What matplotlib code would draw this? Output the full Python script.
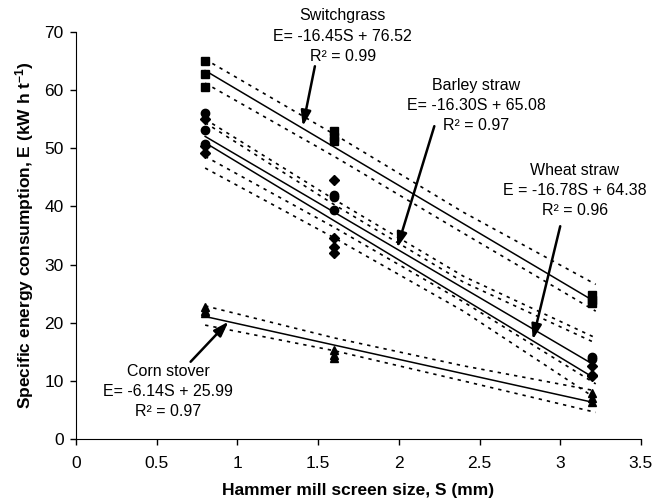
import numpy as np
import matplotlib
matplotlib.use("Agg")
import matplotlib.pyplot as plt

plt.rcParams["font.family"] = ["Liberation Sans", "DejaVu Sans"]
plt.rcParams["mathtext.fontset"] = "custom"
plt.rcParams["mathtext.rm"] = "Liberation Sans"
plt.rcParams["mathtext.bf"] = "Liberation Sans:bold"
plt.rcParams["mathtext.default"] = "bf"

# measured points (screen size, mm)
sg_x = [0.8, 0.8, 0.8, 1.6, 1.6, 1.6, 3.2, 3.2, 3.2]
sg_e = [65.0, 62.7, 60.5, 53.0, 52.0, 51.2, 24.8, 24.0, 23.4]
barley_x = [0.8, 0.8, 0.8, 1.6, 1.6, 1.6, 3.2, 3.2]
barley_e = [56.1, 53.1, 50.7, 41.9, 41.6, 39.4, 14.2, 13.7]
wheat_x = [0.8, 0.8, 0.8, 1.6, 1.6, 1.6, 1.6, 3.2, 3.2, 3.2]
wheat_e = [55.1, 50.4, 49.2, 44.6, 34.6, 33.0, 32.0, 12.6, 11.0, 10.8]
corn_x = [0.8, 0.8, 0.8, 1.6, 1.6, 1.6, 3.2, 3.2, 3.2]
corn_e = [22.7, 22.0, 21.6, 15.3, 14.5, 14.0, 8.0, 7.0, 6.3]

# fitted lines E = a*S + b
fit_x = [0.8, 3.2]
sg_fit = (-16.45, 76.52)
barley_fit = (-16.30, 65.08)
wheat_fit = (-16.78, 64.38)
corn_fit = (-6.14, 25.99)

# confidence bands
band_x = [0.8, 1.6, 2.4, 3.22]
sg_up = [65.3, 52.4, 39.0, 26.6]
sg_lo = [61.2, 48.6, 35.4, 22.0]
barley_up = [55.0, 41.2, 28.0, 17.4]
barley_lo = [48.6, 36.4, 23.6, 9.5]
wheat_up = [54.4, 40.3, 27.0, 16.5]
wheat_lo = [46.6, 34.6, 22.0, 7.0]
corn_up = [22.9, 17.4, 12.6, 8.3]
corn_lo = [19.6, 15.2, 10.0, 4.6]

fig, ax = plt.subplots(figsize=(6.52, 4.99), dpi=100)
fig.subplots_adjust(left=0.1166, right=0.983, bottom=0.12, top=0.936)

dot = dict(color="black", lw=1.2, linestyle=(0, (2, 3)))
for up, lo in [(sg_up, sg_lo), (barley_up, barley_lo), (wheat_up, wheat_lo), (corn_up, corn_lo)]:
    ax.plot(band_x, up, **dot)
    ax.plot(band_x, lo, **dot)

for a, b in [sg_fit, barley_fit, wheat_fit, corn_fit]:
    ax.plot(fit_x, [a * s + b for s in fit_x], color="black", lw=1.1)

ax.plot(sg_x, sg_e, "s", color="black", ms=5.5, ls="none")
ax.plot(barley_x, barley_e, "o", color="black", ms=6, ls="none")
ax.plot(wheat_x, wheat_e, "D", color="black", ms=5, ls="none")
ax.plot(corn_x, corn_e, "^", color="black", ms=6, ls="none")

arrow = dict(arrowstyle="-|>,head_length=0.9,head_width=0.3", color="black", lw=1.8, shrinkA=0, shrinkB=0)
notes = [
    ("Switchgrass\nE= -16.45S + 76.52\nR² = 0.99", (1.653, 69.3), (1.48, 64.1), (1.405, 53.8)),
    ("Barley straw\nE= -16.30S + 65.08\nR² = 0.97", (2.48, 57.3), (2.22, 53.8), (1.99, 32.9)),
    ("Wheat straw\nE = -16.78S + 64.38\nR² = 0.96", (3.09, 42.7), (3.0, 36.6), (2.83, 17.1)),
    ("Corn stover\nE= -6.14S + 25.99\nR² = 0.97", (0.57, 8.2), (0.71, 13.3), (0.945, 20.2)),
]
for txt, pos, tail, head in notes:
    ax.text(pos[0], pos[1], txt, ha="center", va="center", fontsize=11.5, linespacing=1.42)
    ax.annotate("", xy=head, xytext=tail, arrowprops=arrow)

ax.set_xlim(0, 3.5)
ax.set_ylim(0, 70)
ax.set_xticks(np.arange(0, 3.51, 0.5))
ax.set_xticklabels(["0", "0.5", "1", "1.5", "2", "2.5", "3", "3.5"])
ax.set_yticks(range(0, 71, 10))
ax.tick_params(direction="out", length=4, width=1, labelsize=12.5, pad=5)
ax.tick_params(axis="x", pad=8)
ax.spines["top"].set_visible(False)
ax.spines["right"].set_visible(False)
ax.set_xlabel("Hammer mill screen size, S (mm)", fontsize=12.5, fontweight="bold", labelpad=9)
ax.set_ylabel("Specific energy consumption, E (kW h t$^{-1}$)", fontsize=12.5, fontweight="bold", labelpad=6)

fig.savefig("out.png", dpi=100)
